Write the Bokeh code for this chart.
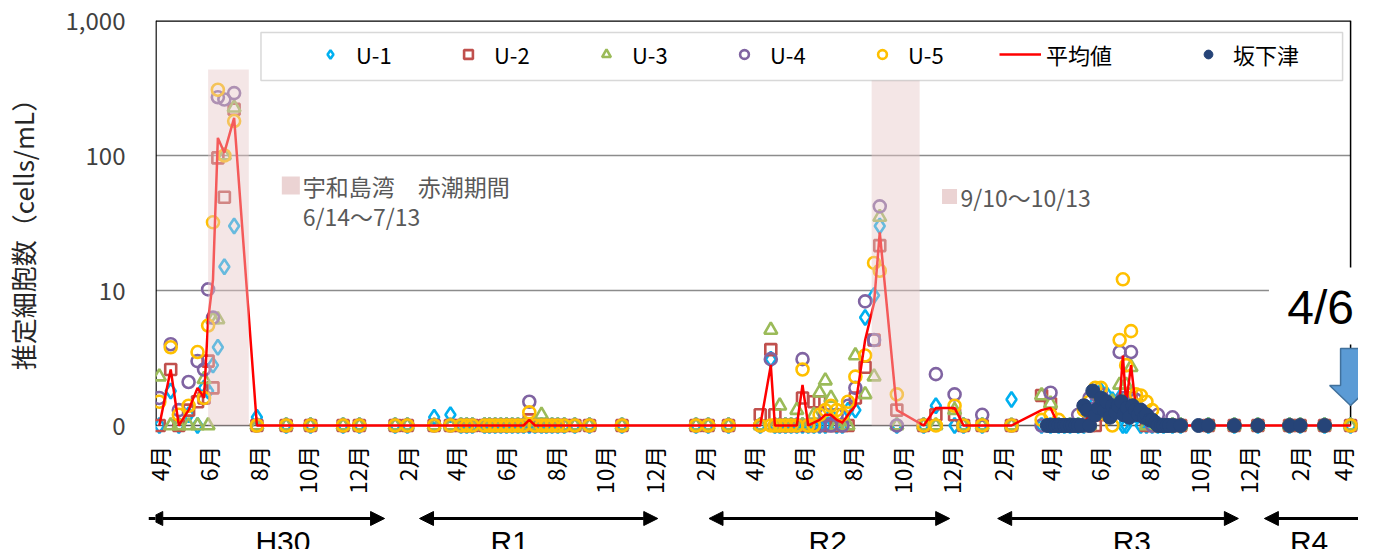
import math
import numpy as np
import pandas as pd
from bokeh.plotting import figure
from bokeh.layouts import column
from bokeh.models import (Range1d, FixedTicker, Legend, LegendItem, BoxAnnotation,
                          Arrow, NormalHead, ColumnDataSource)
from bokeh.core.properties import value
from bokeh.embed import file_html
from bokeh.resources import INLINE

# ---------------- data (cells/mL, 0 = not detected) ----------------
u_dates = [
    "2018-04-02", "2018-04-16", "2018-04-26", "2018-05-08", "2018-05-19", "2018-05-27",
    "2018-06-01", "2018-06-07", "2018-06-13", "2018-06-21", "2018-07-03", "2018-07-31",
    "2018-09-05", "2018-10-05", "2018-11-14", "2018-12-04", "2019-01-17", "2019-02-01",
    "2019-03-06", "2019-03-26",
    "2019-04-08", "2019-04-15", "2019-04-22", "2019-05-07", "2019-05-13", "2019-05-20",
    "2019-05-27", "2019-06-03", "2019-06-10", "2019-06-17", "2019-06-24",
    "2019-07-01", "2019-07-08", "2019-07-16", "2019-07-22", "2019-07-29", "2019-08-05",
    "2019-08-13", "2019-08-26", "2019-09-13", "2019-10-23", "2020-01-22", "2020-02-06",
    "2020-03-02",
    "2020-04-10", "2020-04-23", "2020-04-28", "2020-05-04", "2020-05-11", "2020-05-18",
    "2020-05-25", "2020-06-01", "2020-06-08", "2020-06-15", "2020-06-22", "2020-06-29",
    "2020-07-06", "2020-07-13", "2020-07-20", "2020-07-27",
    "2020-08-05", "2020-08-17", "2020-08-28", "2020-09-04", "2020-09-25", "2020-10-28",
    "2020-11-12", "2020-12-05", "2020-12-16", "2021-01-08", "2021-02-13", "2021-03-22",
    "2021-04-02",
    "2021-04-12", "2021-04-19", "2021-04-26", "2021-05-06", "2021-05-13", "2021-05-20",
    "2021-05-27", "2021-06-03", "2021-06-10", "2021-06-17", "2021-06-26", "2021-06-30",
    "2021-07-04", "2021-07-10", "2021-07-16", "2021-07-22", "2021-07-29", "2021-08-05",
    "2021-08-12", "2021-08-19", "2021-08-30",
    "2021-09-09", "2021-10-13", "2021-11-14", "2021-12-13", "2022-01-21", "2022-02-03",
    "2022-03-05", "2022-04-06",
]
u1 = [
    0, 1.8, 0, 1.2, 1.0, 1.9, 1.8, 2.8, 3.8, 15, 30, 1.15,
    0, 0, 0, 0, 0, 0, 1.15, 1.2,
    0, 0, 0, 0, 0, 0, 0, 0, 0, 0, 0,
    0, 0, 0, 0, 0, 0, 0, 0, 0, 0, 0, 0, 0,
    0, 3.1, 0, 0, 0, 0, 0, 0, 0, 0, 0, 0, 1.2, 0, 0, 1.3,
    1.3, 6.3, 9.2, 30, 1.0, 0, 1.4, 0, 0, 0, 1.56, 0, 1.0,
    0, 0, 0, 0, 0, 1.2, 1.5, 1.8, 1.7, 1.55, 1.6, 1.0, 0, 1.2, 1.2, 0, 0, 0, 0, 0, 0,
    0, 0, 0, 0, 0, 0, 0, 0,
]
u2 = [
    0, 2.6, 0, 1.3, 1.5, 1.6, 3.0, 1.9, 96, 49, 220, 0,
    0, 0, 0, 0, 0, 0, 0, 0,
    0, 0, 0, 0, 0, 0, 0, 0, 0, 0, 0,
    1.1, 0, 0, 0, 0, 0, 0, 0, 0, 0, 0, 0, 0,
    1.2, 3.65, 1.2, 0, 0, 0, 0, 1.6, 0, 1.5, 1.5, 0, 0, 0, 0, 0,
    1.6, 2.7, 4.3, 21.5, 1.3, 0, 1.2, 1.2, 0, 0, 0, 1.67, 1.45,
    0, 0, 0, 0, 0, 0, 0, 1.2, 1.3, 1.3, 1.3, 1.5, 1.2, 1.6, 1.3, 1.2, 0, 0, 0, 0, 0,
    0, 0, 0, 0, 0, 0, 0, 0,
]
u3 = [
    2.3, 0, 0, 0, 1.0, 2.2, 0, 6.1, 6.1, 100, 226, 0,
    0, 0, 0, 0, 0, 0, 0, 0,
    0, 0, 0, 0, 0, 0, 0, 0, 0, 0, 0,
    0, 0, 1.2, 0, 0, 0, 0, 0, 0, 0, 0, 0, 0,
    0, 5.1, 0, 1.4, 0, 0, 1.3, 0, 0, 1.2, 1.75, 2.15, 1.6, 0, 0, 0,
    3.3, 1.7, 2.3, 35, 0, 0, 0, 1.3, 0, 0, 0, 1.67, 1.45,
    0, 0, 0, 0, 0, 0, 1.3, 1.3, 1.2, 1.5, 2.0, 1.5, 2.0, 2.7, 1.3, 1.2, 0, 0, 0, 0, 0,
    0, 0, 0, 0, 0, 0, 0, 0,
]
u4 = [
    1.6, 4.0, 1.3, 2.1, 3.0, 2.6, 10.2, 6.3, 270, 260, 290, 0,
    0, 0, 0, 0, 0, 0, 0, 0,
    0, 0, 0, 0, 0, 0, 0, 0, 0, 0, 0,
    1.5, 0, 0, 0, 0, 0, 0, 0, 0, 0, 0, 0, 0,
    0, 3.1, 0, 0, 0, 0, 0, 3.1, 0, 0, 0, 1.2, 0, 1.2, 0, 1.4,
    1.9, 8.3, 4.3, 42, 0, 0, 2.4, 1.7, 0, 1.2, 0, 0, 1.75,
    0, 0, 0, 1.2, 1.4, 1.6, 1.7, 1.7, 1.4, 1.3, 3.5, 1.6, 1.3, 3.5, 1.55, 1.3, 1.2, 0, 1.2, 0, 1.15,
    0, 0, 0, 0, 0, 0, 0, 0,
]
u5 = [
    1.5, 3.8, 1.2, 1.4, 3.5, 1.6, 5.5, 32, 307, 100, 180, 0,
    0, 0, 0, 0, 0, 0, 0, 0,
    0, 0, 0, 0, 0, 0, 0, 0, 0, 0, 0,
    1.25, 0, 0, 0, 0, 0, 0, 0, 0, 0, 0, 0, 0,
    0, 0, 0, 0, 0, 0, 0, 2.6, 0, 0, 1.2, 1.3, 1.4, 1.3, 1.2, 1.5,
    2.3, 3.3, 16, 14, 1.7, 0, 0, 1.4, 0, 0, 0, 1.1, 1.2,
    1.1, 0, 0, 0, 1.3, 1.5, 1.9, 1.9, 1.2, 0, 4.3, 12.1, 2.8, 5.0, 1.7, 1.67, 1.5, 1.3, 0, 0, 0,
    0, 0, 0, 0, 0, 0, 0, 0,
]
u_mean = [
    0, 2.6, 0, 1.3, 1.9, 1.6, 6.0, 12, 135, 105, 190, 0,
    0, 0, 0, 0, 0, 0, 0, 0,
    0, 0, 0, 0, 0, 0, 0, 0, 0, 0, 0,
    1.1, 0, 0, 0, 0, 0, 0, 0, 0, 0, 0, 0, 0,
    0, 2.8, 0, 0, 0, 0, 0, 2.0, 0, 1.05, 1.1, 1.2, 1.2, 1.1, 1.05, 1.2,
    1.4, 4.3, 8.1, 27, 1.3, 0, 1.35, 1.35, 0, 0, 0, 1.3, 1.35,
    0, 0, 0, 0, 1.05, 1.2, 1.3, 1.3, 1.25, 1.2, 1.5, 3.3, 1.45, 2.8, 1.35, 1.15, 1.1, 0, 0, 0, 0,
    0, 0, 0, 0, 0, 0, 0, 0,
]
sakashitazu_dates = [
    "2021-03-29", "2021-04-01", "2021-04-05", "2021-04-08", "2021-04-12", "2021-04-15",
    "2021-04-19", "2021-04-22", "2021-04-26", "2021-04-29", "2021-05-03", "2021-05-06",
    "2021-05-10", "2021-05-13", "2021-05-17", "2021-05-20", "2021-05-24", "2021-05-27",
    "2021-05-31", "2021-06-03", "2021-06-07", "2021-06-10", "2021-06-14", "2021-06-17",
    "2021-06-21", "2021-06-24", "2021-06-28", "2021-07-01", "2021-07-05", "2021-07-08",
    "2021-07-12", "2021-07-15", "2021-07-19", "2021-07-22", "2021-07-26", "2021-07-29",
    "2021-08-02", "2021-08-05", "2021-08-09", "2021-08-12", "2021-08-16", "2021-08-19",
    "2021-08-23", "2021-08-26", "2021-08-31", "2021-09-09", "2021-10-01", "2021-10-13",
    "2021-11-14", "2021-12-13", "2022-01-21", "2022-02-03", "2022-03-05",
]
sakashitazu = [
    0, 0, 0, 0, 0, 0,
    0, 0, 0, 0, 0, 0,
    0, 1.4, 1.3, 0, 1.8, 1.2,
    1.35, 1.6, 1.3, 1.5, 1.15, 1.4,
    1.25, 1.4, 1.5, 1.2, 1.35, 1.15,
    1.4, 1.3, 1.2, 1.3, 1.15, 1.2,
    1.1, 1.1, 1.05, 0, 0, 0,
    0, 0, 0, 0, 0, 0,
    0, 0, 0, 0, 0,
]
series_names = ["U-1", "U-2", "U-3", "U-4", "U-5"]
series_colors = ["#00B0F0", "#C0504D", "#9BBB59", "#8064A2", "#FFC000"]
series_markers = ["diamond", "square", "triangle", "circle", "circle"]
mean_name = "平均値"
sakashitazu_name = "坂下津"

band_starts = ["2018-06-01", "2020-08-25"]
band_ends = ["2018-07-21", "2020-10-23"]
band_tops = [433, 366]
band_texts = ["宇和島湾　赤潮期間", "9/10～10/13"]
band_text2 = "6/14～7/13"

fy_labels = ["H30", "R1", "R2", "R3", "R4"]
fy_starts = ["2018-03-20", "2019-02-16", "2020-02-07", "2021-01-27", "2021-12-21"]
fy_ends = ["2019-01-04", "2019-12-06", "2020-11-29", "2021-11-19", "2022-05-10"]
fy_centers = ["2018-09-01", "2019-06-07", "2020-07-02", "2021-07-11", "2022-02-14"]

tick_dates = pd.date_range("2018-04-01", "2022-04-01", freq="2MS")
y_ticks = [1, 10, 100, 1000]
y_tick_labels = ["0", "10", "100", "1,000"]

for s in (u1, u2, u3, u4, u5, u_mean):
    assert len(s) == len(u_dates), len(s)
assert len(sakashitazu) == len(sakashitazu_dates)

# ---------------- helpers ----------------
ORIGIN = pd.Timestamp("2018-04-01")


def to_days(ds):
    return np.asarray((pd.to_datetime(list(ds)) - ORIGIN).days, dtype=float)


def shown(v):
    v = np.asarray(v, dtype=float)
    return np.where(v < 1, 1.0, v)   # "0" is drawn on the bottom line


# page-pixel <-> data helpers for the decorations
PX_PER_DAY = 0.8172
X_LEFT_PX = 157.0
X_LEFT_DAY = -3.7


def xd(px):
    return X_LEFT_DAY + (px - X_LEFT_PX) / PX_PER_DAY


def yd(py):
    return 10 ** ((433.0 - py) / 135.0)


JPF = "Noto Sans CJK JP"
JP = value(JPF)
W = 1358
xr = Range1d(xd(157), xd(157 + W - 149))

# ---------------- main figure ----------------
p = figure(width=W, height=505, x_range=xr, y_range=Range1d(yd(443), yd(28)),
           y_axis_type="log", output_backend="svg", toolbar_location=None,
           min_border_left=149, min_border_right=0, min_border_top=20, min_border_bottom=70,
           background_fill_color="white", border_fill_color="white")
p.outline_line_color = None
p.xgrid.grid_line_color = None
p.ygrid.grid_line_color = None

ux = to_days(u_dates)
x_lo, x_hi = xd(157.5), to_days(["2022-04-06"])[0]

# frame lines and grid lines
p.segment(x0=[x_lo, x_lo], y0=[10, 100], x1=[x_hi, x_hi], y1=[10, 100],
          line_color="#8c8c8c", line_width=1.5)
p.segment(x0=[x_lo], y0=[1], x1=[x_hi], y1=[1], line_color="#595959", line_width=1.5)
p.segment(x0=[x_lo], y0=[1000], x1=[x_hi], y1=[1000], line_color="black", line_width=2.5)
p.segment(x0=[x_lo], y0=[1], x1=[x_lo], y1=[1000], line_color="black", line_width=1.5)
p.segment(x0=[x_hi], y0=[1], x1=[x_hi], y1=[1000], line_color="black", line_width=1.5)

renderers = []
sizes = {"diamond": 15, "square": 11, "triangle": 13, "circle": 12}
for vals, name, col, mk in zip((u1, u2, u3, u4, u5), series_names, series_colors, series_markers):
    r = p.scatter(ux, shown(vals), marker=mk, size=sizes[mk], fill_color=None,
                  line_color=col, line_width=2.6)
    renderers.append(r)
r_mean = p.line(ux, shown(u_mean), line_color="#FF0000", line_width=2.5)
r_sak = p.scatter(to_days(sakashitazu_dates), shown(sakashitazu), marker="circle", size=14,
                  fill_color="#264478", line_color="#264478")

# red-tide periods (drawn over the marks, semi-transparent)
p.quad(left=to_days(band_starts), right=to_days(band_ends), bottom=1, top=band_tops,
       fill_color="#E6C8C8", fill_alpha=0.45, line_color=None)

# band labels
p.scatter(x=[xd(293), xd(955)], y=[yd(193), yd(204)], marker="square", size=[18, 15],
          fill_color="#EBD3D3", line_color=None)
p.text(x=[xd(305), xd(966)], y=[yd(193), yd(204)], text=band_texts,
       text_font=JP, text_font_size="23px", text_color="#595959",
       text_align="left", text_baseline="middle")
p.text(x=[xd(305)], y=[yd(223)], text=[band_text2],
       text_font=JP, text_font_size="23px", text_color="#595959",
       text_align="left", text_baseline="middle")

# "4/6" call-out
p.quad(left=[xd(1276)], right=[xd(1380)], bottom=[yd(352)], top=[yd(275)],
       fill_color="white", line_color=None)
p.text(x=[xd(1328)], y=[yd(315)], text=["4/6"], text_font=value("Liberation Sans"),
       text_font_size="48px", text_color="black", text_align="center",
       text_baseline="middle")
arrow_px = [(1348, 356), (1369, 356), (1369, 393), (1379, 393), (1358, 413), (1337, 393), (1348, 393)]
p.patch([xd(a) for a, b in arrow_px], [yd(b) for a, b in arrow_px],
        fill_color="#5B9BD5", line_color="#41719C", line_width=1.5)

# axes
p.yaxis.ticker = FixedTicker(ticks=y_ticks)
p.yaxis.major_label_overrides = {t: l for t, l in zip(y_ticks, y_tick_labels)}
p.yaxis.axis_line_color = None
p.yaxis.major_tick_line_color = None
p.yaxis.minor_tick_line_color = None
p.yaxis.major_label_standoff = 24
p.yaxis.major_label_text_font = JPF
p.yaxis.major_label_text_font_size = "24px"
p.yaxis.major_label_text_color = "#404040"
p.yaxis.axis_label = "推定細胞数（cells/mL）"
p.yaxis.axis_label_text_font = JPF
p.yaxis.axis_label_text_font_size = "26px"
p.yaxis.axis_label_text_font_style = "normal"
p.yaxis.axis_label_text_color = "#262626"
p.yaxis.axis_label_standoff = 22

tick_days = to_days(tick_dates)
p.xaxis.ticker = FixedTicker(ticks=list(tick_days))
p.xaxis.major_label_overrides = {float(d): f"{t.month}月" for d, t in zip(tick_days, tick_dates)}
p.xaxis.major_label_orientation = math.pi / 2
p.xaxis.axis_line_color = None
p.xaxis.major_tick_line_color = None
p.xaxis.minor_tick_line_color = None
p.xaxis.major_label_standoff = 4
p.xaxis.major_label_text_font = JPF
p.xaxis.major_label_text_font_size = "23px"
p.xaxis.major_label_text_color = "black"

# legend
box = BoxAnnotation(left=xd(263), right=xd(1350), top=yd(40), bottom=yd(88),
                    fill_color="white", fill_alpha=1, line_color="#7f7f7f", line_width=1.5)
p.add_layout(box)
items_a = [LegendItem(label=n, renderers=[r]) for n, r in zip(series_names, renderers)]
items_a.append(LegendItem(label=mean_name, renderers=[r_mean]))
leg_a = Legend(items=items_a, orientation="horizontal", location=(154, 365),
               glyph_width=42, glyph_height=22, label_height=22, label_width=80,
               label_standoff=5, spacing=11, padding=0, margin=0,
               border_line_color=None, background_fill_alpha=0,
               label_text_font=JPF, label_text_font_size="22px", label_text_color="black")
leg_b = Legend(items=[LegendItem(label=sakashitazu_name, renderers=[r_sak])],
               orientation="horizontal", location=(1040, 365),
               glyph_width=26, glyph_height=22, label_height=22, label_standoff=12,
               padding=0, margin=0, border_line_color=None, background_fill_alpha=0,
               label_text_font=JPF, label_text_font_size="22px", label_text_color="black")
p.add_layout(leg_a)
p.add_layout(leg_b)

# ---------------- fiscal-year strip ----------------
p2 = figure(width=W, height=44, x_range=xr, y_range=Range1d(0, 44),
            output_backend="svg", toolbar_location=None,
            min_border_left=149, min_border_right=0, min_border_top=0, min_border_bottom=0,
            background_fill_color="white", border_fill_color="white")
p2.axis.visible = False
p2.grid.grid_line_color = None
p2.outline_line_color = None
fy_src = ColumnDataSource(dict(x0=to_days(fy_starts), x1=to_days(fy_ends), y=[31] * len(fy_labels)))
p2.add_layout(Arrow(x_start="x0", y_start="y", x_end="x1", y_end="y", source=fy_src,
                    line_width=3, line_color="black",
                    start=NormalHead(size=14, fill_color="black", line_color="black"),
                    end=NormalHead(size=14, fill_color="black", line_color="black")))
p2.text(x=to_days(fy_centers), y=[8] * len(fy_labels), text=fy_labels,
        text_font=value("Liberation Sans"), text_font_size="30px", text_color="black",
        text_align="center", text_baseline="middle")

layout = column(p, p2)
open("out.html", "w").write(file_html(layout, INLINE))
